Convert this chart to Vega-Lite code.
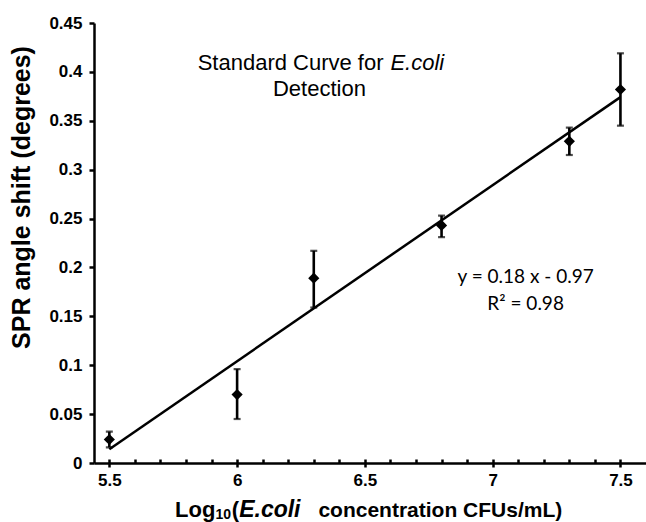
{
  "$schema": "https://vega.github.io/schema/vega-lite/v6.json",
  "width": 552,
  "height": 440,
  "autosize": {"type": "none"},
  "padding": {"left": 94, "top": 23, "right": 0, "bottom": 59},
  "background": "white",
  "config": {
    "view": {"stroke": null},
    "axis": {
      "grid": false,
      "domainColor": "black",
      "domainWidth": 2.5,
      "tickColor": "black",
      "tickWidth": 2.5,
      "labelColor": "black",
      "labelFont": "Liberation Sans",
      "labelFontWeight": "bold",
      "labelFontSize": 17,
      "titleColor": "black"
    }
  },
  "datasets": {
    "points": [
      {"conc": 5.5, "shift": 0.024, "lo": 0.016, "hi": 0.032},
      {"conc": 6.0, "shift": 0.070, "lo": 0.045, "hi": 0.096},
      {"conc": 6.3, "shift": 0.189, "lo": 0.159, "hi": 0.217},
      {"conc": 6.8, "shift": 0.243, "lo": 0.231, "hi": 0.253},
      {"conc": 7.3, "shift": 0.329, "lo": 0.315, "hi": 0.343},
      {"conc": 7.5, "shift": 0.382, "lo": 0.345, "hi": 0.419}
    ]
  },
  "resolve": {"axis": {"x": "independent"}},
  "layer": [
    {
      "data": {"name": "points"},
      "transform": [{"regression": "shift", "on": "conc", "extent": [5.5, 7.5]}],
      "mark": {"type": "line", "color": "black", "strokeWidth": 2.5},
      "encoding": {
        "x": {
          "field": "conc", "type": "quantitative",
          "scale": {"domain": [5.44, 7.6], "nice": false, "zero": false},
          "axis": {
            "orient": "bottom",
            "title": null,
            "values": [5.5, 6, 6.5, 7, 7.5],
            "format": "~g",
            "tickSize": 4,
            "labelPadding": 5
          }
        },
        "y": {
          "field": "shift", "type": "quantitative",
          "scale": {"domain": [0, 0.45], "nice": false, "zero": true},
          "axis": {
            "values": [0, 0.05, 0.1, 0.15, 0.2, 0.25, 0.3, 0.35, 0.4, 0.45],
            "format": "~g",
            "tickSize": 5,
            "labelPadding": 7,
            "title": "SPR angle shift (degrees)",
            "titleFont": "Liberation Sans",
            "titleFontWeight": "bold",
            "titleFontSize": 25,
            "titleAngle": 270,
            "titleAlign": "center",
            "titleBaseline": "middle",
            "titleX": -73,
            "titleY": 174
          }
        }
      }
    },
    {
      "data": {"name": "points"},
      "mark": {"type": "rule", "color": "black", "strokeWidth": 2.6},
      "encoding": {
        "x": {
          "field": "conc", "type": "quantitative",
          "axis": {
            "orient": "bottom",
            "title": null,
            "values": [5.5, 5.6, 5.7, 5.8, 5.9, 6, 6.1, 6.2, 6.3, 6.4, 6.5, 6.6, 6.7, 6.8, 6.9, 7, 7.1, 7.2, 7.3, 7.4, 7.5],
            "labels": false,
            "domain": false,
            "tickSize": -4
          }
        },
        "y": {"field": "lo", "type": "quantitative"},
        "y2": {"field": "hi"}
      }
    },
    {
      "data": {"name": "points"},
      "mark": {"type": "tick", "color": "black", "orient": "horizontal", "size": 7, "thickness": 2.2},
      "encoding": {
        "x": {"field": "conc", "type": "quantitative", "axis": null},
        "y": {"field": "lo", "type": "quantitative"}
      }
    },
    {
      "data": {"name": "points"},
      "mark": {"type": "tick", "color": "black", "orient": "horizontal", "size": 7, "thickness": 2.2},
      "encoding": {
        "x": {"field": "conc", "type": "quantitative", "axis": null},
        "y": {"field": "hi", "type": "quantitative"}
      }
    },
    {
      "data": {"name": "points"},
      "mark": {"type": "point", "shape": "diamond", "filled": true, "color": "black", "size": 125, "opacity": 1},
      "encoding": {
        "x": {"field": "conc", "type": "quantitative", "axis": null},
        "y": {"field": "shift", "type": "quantitative"}
      }
    },
    {
      "data": {"values": [{"label": "Standard Curve for"}]},
      "mark": {"type": "text", "align": "right", "baseline": "alphabetic", "font": "Liberation Sans", "fontSize": 22, "color": "black"},
      "encoding": {
        "text": {"field": "label"},
        "x": {"datum": 6.573, "type": "quantitative", "axis": null},
        "y": {"datum": 0.402, "type": "quantitative"}
      }
    },
    {
      "data": {"values": [{"label": "E.coli"}]},
      "mark": {"type": "text", "align": "left", "baseline": "alphabetic", "font": "Liberation Sans", "fontStyle": "italic", "fontSize": 22, "color": "black"},
      "encoding": {
        "text": {"field": "label"},
        "x": {"datum": 6.600, "type": "quantitative", "axis": null},
        "y": {"datum": 0.402, "type": "quantitative"}
      }
    },
    {
      "data": {"values": [{"label": "Detection"}]},
      "mark": {"type": "text", "align": "center", "baseline": "alphabetic", "font": "Liberation Sans", "fontSize": 22, "color": "black"},
      "encoding": {
        "text": {"field": "label"},
        "x": {"datum": 6.322, "type": "quantitative", "axis": null},
        "y": {"datum": 0.3755, "type": "quantitative"}
      }
    },
    {
      "data": {"values": [{"label": "y = 0.18 x - 0.97"}]},
      "mark": {"type": "text", "align": "center", "baseline": "alphabetic", "font": "Lato", "fontSize": 19, "color": "black"},
      "encoding": {
        "text": {"field": "label"},
        "x": {"datum": 7.129, "type": "quantitative", "axis": null},
        "y": {"datum": 0.1837, "type": "quantitative"}
      }
    },
    {
      "data": {"values": [{"label": "R² = 0.98"}]},
      "mark": {"type": "text", "align": "center", "baseline": "alphabetic", "font": "Lato", "fontSize": 19, "color": "black"},
      "encoding": {
        "text": {"field": "label"},
        "x": {"datum": 7.129, "type": "quantitative", "axis": null},
        "y": {"datum": 0.1564, "type": "quantitative"}
      }
    },
    {
      "data": {"values": [{"label": "Log"}]},
      "mark": {"type": "text", "align": "left", "baseline": "alphabetic", "font": "Liberation Sans", "fontWeight": "bold", "fontSize": 22, "color": "black"},
      "encoding": {
        "text": {"field": "label"},
        "x": {"datum": 5.757, "type": "quantitative", "axis": null},
        "y": {"datum": -0.0552, "type": "quantitative"}
      }
    },
    {
      "data": {"values": [{"label": "10"}]},
      "mark": {"type": "text", "align": "left", "baseline": "alphabetic", "font": "Liberation Sans", "fontWeight": "bold", "fontSize": 14, "color": "black"},
      "encoding": {
        "text": {"field": "label"},
        "x": {"datum": 5.915, "type": "quantitative", "axis": null},
        "y": {"datum": -0.0575, "type": "quantitative"}
      }
    },
    {
      "data": {"values": [{"label": "("}]},
      "mark": {"type": "text", "align": "left", "baseline": "alphabetic", "font": "Liberation Sans", "fontWeight": "bold", "fontSize": 22, "color": "black"},
      "encoding": {
        "text": {"field": "label"},
        "x": {"datum": 5.979, "type": "quantitative", "axis": null},
        "y": {"datum": -0.0552, "type": "quantitative"}
      }
    },
    {
      "data": {"values": [{"label": "E.coli"}]},
      "mark": {"type": "text", "align": "left", "baseline": "alphabetic", "font": "Liberation Sans", "fontWeight": "bold", "fontStyle": "italic", "fontSize": 23, "color": "black"},
      "encoding": {
        "text": {"field": "label"},
        "x": {"datum": 6.008, "type": "quantitative", "axis": null},
        "y": {"datum": -0.0552, "type": "quantitative"}
      }
    },
    {
      "data": {"values": [{"label": "concentration CFUs/mL)"}]},
      "mark": {"type": "text", "align": "left", "baseline": "alphabetic", "font": "Liberation Sans", "fontWeight": "bold", "fontSize": 21, "color": "black"},
      "encoding": {
        "text": {"field": "label"},
        "x": {"datum": 6.318, "type": "quantitative", "axis": null},
        "y": {"datum": -0.0552, "type": "quantitative"}
      }
    }
  ]
}
